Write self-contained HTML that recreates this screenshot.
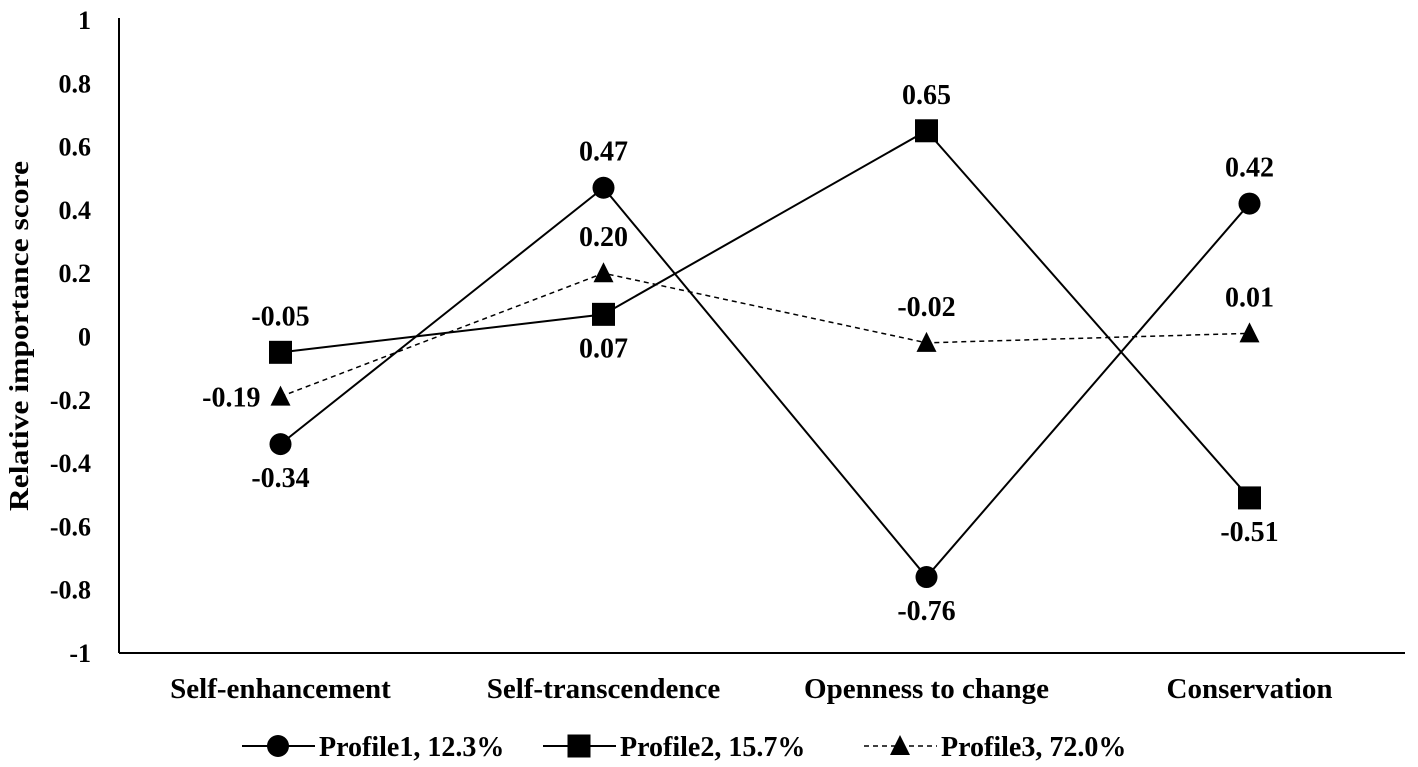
<!DOCTYPE html>
<html><head><meta charset="utf-8"><style>
html,body{margin:0;padding:0;background:#fff;}
svg{display:block;font-family:"Liberation Serif",serif;font-weight:bold;}
</style></head><body>
<svg id="chart" width="1418" height="767" viewBox="0 0 1418 767"></svg>
<script>
const categories=["Self-enhancement","Self-transcendence","Openness to change","Conservation"];
const profile1=[-0.34,0.47,-0.76,0.42];
const profile2=[-0.05,0.07,0.65,-0.51];
const profile3=[-0.19,0.20,-0.02,0.01];
const seriesNames=["Profile1, 12.3%","Profile2, 15.7%","Profile3, 72.0%"];
const yTicks=[1,0.8,0.6,0.4,0.2,0,-0.2,-0.4,-0.6,-0.8,-1];
const yTickLabels=["1","0.8","0.6","0.4","0.2","0","-0.2","-0.4","-0.6","-0.8","-1"];
const labelPos1=["below","above","below","above"];
const labelPos2=["above","below","above","below"];
const labelPos3=["left","above","above","above"];

const NS="http://www.w3.org/2000/svg";
const svg=document.getElementById('chart');
const X0=119,X1=1411,Y0=20,Y1=653;
const band=(X1-X0)/categories.length;
function x(i){return X0+band*(i+0.5);}
function y(v){return Y0+(1-v)/2*(Y1-Y0);}
function el(tag,attrs,parent){const e=document.createElementNS(NS,tag);for(const k in attrs)e.setAttribute(k,attrs[k]);(parent||svg).appendChild(e);return e;}

const yAxis=el('line',{x1:X0,y1:18,x2:X0,y2:Y1,stroke:'#000','stroke-width':2});


const xAxis=el('line',{x1:X0,y1:Y1,x2:1405,y2:Y1,stroke:'#000','stroke-width':2});



yTicks.forEach((v,i)=>{
  const t=el('text',{x:91,y:y(v)+9,'text-anchor':'end','font-size':26});
  t.textContent=yTickLabels[i];
  
  
});
categories.forEach((c,i)=>{
  const t=el('text',{x:x(i),y:698,'text-anchor':'middle','font-size':29});
  t.textContent=c;
  
  
});
const yt=el('text',{x:0,y:0,'text-anchor':'middle','font-size':27,textLength:350,lengthAdjust:'spacingAndGlyphs',transform:'translate(28,336) rotate(-90)'});
yt.textContent='Relative importance score';



function marker(type,cx,cy,g){
  if(type==='circle')return el('circle',{cx:cx,cy:cy,r:11,fill:'#000'},g);
  if(type==='square')return el('rect',{x:cx-11.5,y:cy-11.5,width:23,height:23,fill:'#000'},g);
  return el('polygon',{points:`${cx},${cy-11} ${cx+10},${cy+9} ${cx-10},${cy+9}`,fill:'#000'},g);
}
const series=[
 {data:profile1,type:'circle',dash:null,pos:labelPos1,name:'profile1'},
 {data:profile2,type:'square',dash:null,pos:labelPos2,name:'profile2'},
 {data:profile3,type:'triangle',dash:'5,4',pos:labelPos3,name:'profile3'}
];
series.forEach(s=>{
  const g=el('g',{});
  
  
  const pts=s.data.map((v,i)=>x(i)+','+y(v)).join(' ');
  const pl=el('polyline',{points:pts,fill:'none',stroke:'#000','stroke-width':s.dash?1.5:2},g);
  if(s.dash)pl.setAttribute('stroke-dasharray',s.dash);
  
  
  s.data.forEach((v,i)=>{
    const m=marker(s.type,x(i),y(v),g);
    
    
    let tx=x(i),ty,anchor='middle';
    if(s.pos[i]==='above')ty=y(v)-27;
    else if(s.pos[i]==='below')ty=y(v)+43;
    else {tx=x(i)-20;ty=y(v)+10;anchor='end';}
    const t=el('text',{x:tx,y:ty,'text-anchor':anchor,'font-size':28},g);
    t.textContent=v.toFixed(2);
    
    
  });
});

const legX=[242,543,864];
series.forEach((s,i)=>{
  const g=el('g',{});
  
  
  const l=el('line',{x1:legX[i],y1:746,x2:legX[i]+73,y2:746,stroke:'#000','stroke-width':s.dash?1.5:2},g);
  if(s.dash)l.setAttribute('stroke-dasharray',s.dash);
  marker(s.type,legX[i]+36,746,g);
  const t=el('text',{x:legX[i]+77,y:756,'font-size':28},g);
  t.textContent=seriesNames[i];
});
</script>
</body></html>
